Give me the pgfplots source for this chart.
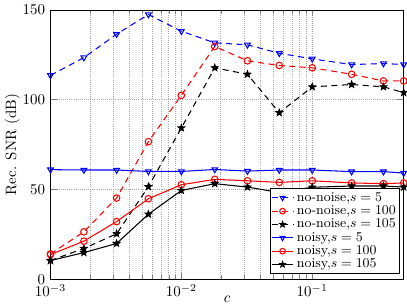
\documentclass[border=0pt]{standalone}
\usepackage{pgfplots}
\pgfplotsset{compat=1.18}
\pgfdeclareplotmark{fstar}{%
  \pgfpathmoveto{\pgfpointpolar{90}{\pgfplotmarksize}}%
  \pgfpathlineto{\pgfpointpolar{126}{0.42\pgfplotmarksize}}%
  \pgfpathlineto{\pgfpointpolar{162}{\pgfplotmarksize}}%
  \pgfpathlineto{\pgfpointpolar{198}{0.42\pgfplotmarksize}}%
  \pgfpathlineto{\pgfpointpolar{234}{\pgfplotmarksize}}%
  \pgfpathlineto{\pgfpointpolar{270}{0.42\pgfplotmarksize}}%
  \pgfpathlineto{\pgfpointpolar{306}{\pgfplotmarksize}}%
  \pgfpathlineto{\pgfpointpolar{342}{0.42\pgfplotmarksize}}%
  \pgfpathlineto{\pgfpointpolar{18}{\pgfplotmarksize}}%
  \pgfpathlineto{\pgfpointpolar{54}{0.42\pgfplotmarksize}}%
  \pgfpathclose
  \pgfusepathqfillstroke
}
\begin{document}
\begin{tikzpicture}
\begin{axis}[
  scale only axis,
  width=236pt, height=180pt,
  xmode=log,
  xmin=0.001, xmax=0.5,
  ymin=0, ymax=150,
  ytick={0,50,100,150},
  xtick={0.001,0.01,0.1},
  xlabel={$c$},
  ylabel={Rec. SNR (dB)},
  xlabel style={yshift=7pt},
  ylabel style={yshift=-5pt},
  grid=both,
  major grid style={densely dotted, gray!70},
  minor grid style={densely dotted, gray!70},
  minor y tick num=0,
  tick align=inside,
  legend style={at={(rel axis cs:0.989,0.019)}, anchor=south east, draw=black, fill=white, font=\small, inner sep=0.5pt, row sep=-2.5pt},
  legend cell align=left,
  legend image post style={scale=0.85},
  every axis plot/.append style={line width=0.7pt},
  mark size=2.2pt,
]
\addplot[blue, dash pattern=on 4pt off 3pt, mark=triangle, mark options={solid, rotate=180}] coordinates {
(0.001,113.5) (0.0018,123.4) (0.0032,136.4) (0.0056,147.4) (0.01,138.1) (0.018,131.6)
(0.032,130.5) (0.056,125.8) (0.1,122.7) (0.2,119.5) (0.35,120.1) (0.5,119.5)};
\addlegendentry{no-noise,$s=5$}
\addplot[red, dash pattern=on 4pt off 3pt, mark=o, mark options={solid}] coordinates {
(0.001,14.1) (0.0018,26.4) (0.0032,45.2) (0.0056,76.6) (0.01,102.4) (0.018,129.6)
(0.032,121.6) (0.056,119) (0.1,117.7) (0.2,114.1) (0.35,110.4) (0.5,110.4)};
\addlegendentry{no-noise,$s=100$}
\addplot[black, dash pattern=on 4pt off 3pt, mark=fstar, mark options={solid}] coordinates {
(0.001,10.4) (0.0018,17.1) (0.0032,25.3) (0.0056,51.5) (0.01,84.2) (0.018,117.7)
(0.032,114.1) (0.056,92.7) (0.1,107.1) (0.2,108.4) (0.35,107.1) (0.5,103.9)};
\addlegendentry{no-noise,$s=105$}
\addplot[blue, mark=triangle, mark options={rotate=180}] coordinates {
(0.001,61) (0.0018,60.8) (0.0032,60.8) (0.0056,60) (0.01,60) (0.018,61.1)
(0.032,60.2) (0.056,60.8) (0.1,60.8) (0.2,59.9) (0.35,59.9) (0.5,59.1)};
\addlegendentry{noisy,$s=5$}
\addplot[red, mark=o] coordinates {
(0.001,13.7) (0.0018,21.2) (0.0032,32.1) (0.0056,44.8) (0.01,52.6) (0.018,55.6)
(0.032,54.8) (0.056,53.9) (0.1,54.8) (0.2,53.6) (0.35,53.2) (0.5,53.6)};
\addlegendentry{noisy,$s=100$}
\addplot[black, mark=fstar] coordinates {
(0.001,10.4) (0.0018,14.8) (0.0032,19.9) (0.0056,36.2) (0.01,49.4) (0.018,53.2)
(0.032,51.3) (0.056,48.3) (0.1,51.2) (0.2,51.9) (0.35,51.9) (0.5,51.3)};
\addlegendentry{noisy,$s=105$}
\end{axis}
\end{tikzpicture}
\end{document}
